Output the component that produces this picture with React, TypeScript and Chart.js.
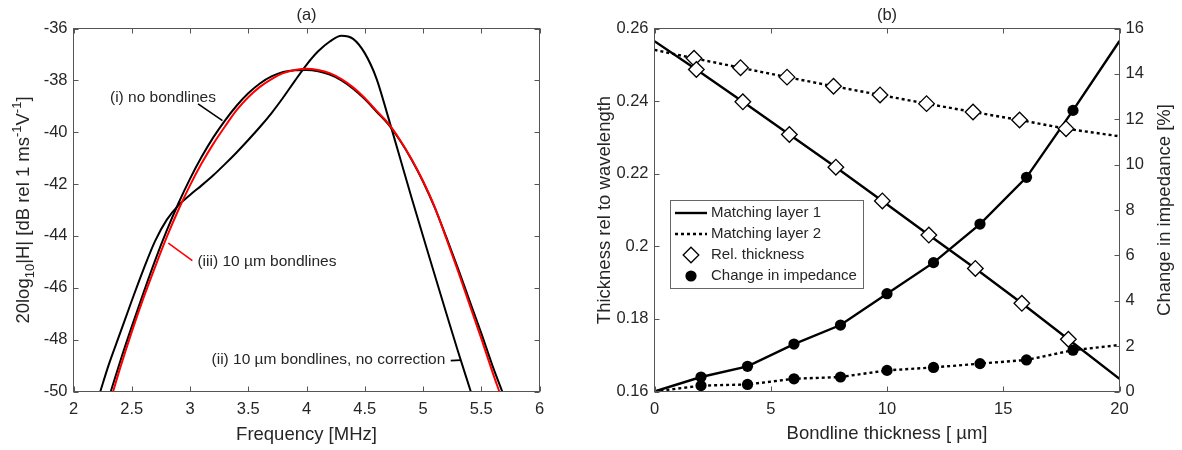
import React, { useEffect, useRef } from 'react';
import { Chart, registerables } from 'chart.js';

Chart.register(...registerables);

const FONT = '"Liberation Sans", Arial, Helvetica, sans-serif';
const TEXT = '#262626';
const AXIS = '#555555';

// ---------------- Panel (a): transfer functions ----------------
const freqNoBond = [2.32, 2.4, 2.5, 2.6, 2.7, 2.8, 2.9, 3.0, 3.1, 3.2, 3.3, 3.4, 3.5, 3.6, 3.7, 3.8, 3.9, 4.0, 4.1, 4.2, 4.3, 4.4, 4.5, 4.6, 4.7, 4.8, 4.9, 5.0, 5.1, 5.2, 5.3, 5.4, 5.5, 5.6, 5.68];
const dbNoBond = [-50.0, -48.85, -47.5, -46.2, -44.95, -43.8, -42.75, -41.8, -40.95, -40.2, -39.55, -38.98, -38.5, -38.12, -37.85, -37.68, -37.61, -37.6, -37.65, -37.78, -38.0, -38.32, -38.72, -39.2, -39.68, -40.3, -41.04, -41.9, -42.9, -44.05, -45.25, -46.5, -47.75, -49.05, -50.0];

const freqNoCorr = [2.23, 2.3, 2.4, 2.5, 2.6, 2.7, 2.8, 2.9, 3.0, 3.1, 3.2, 3.3, 3.4, 3.5, 3.6, 3.7, 3.8, 3.9, 4.0, 4.1, 4.2, 4.3, 4.4, 4.5, 4.6, 4.7, 4.8, 4.9, 5.0, 5.1, 5.2, 5.3, 5.41];
const dbNoCorr = [-50.0, -49.0, -47.75, -46.5, -45.3, -44.2, -43.38, -42.82, -42.42, -42.05, -41.66, -41.23, -40.78, -40.3, -39.8, -39.26, -38.66, -38.02, -37.4, -36.88, -36.5, -36.28, -36.4, -36.95, -37.92, -39.4, -40.95, -42.5, -44.0, -45.5, -46.98, -48.45, -50.0];

const freqBond10 = [2.34, 2.4, 2.5, 2.6, 2.7, 2.8, 2.9, 3.0, 3.1, 3.2, 3.3, 3.4, 3.5, 3.6, 3.7, 3.8, 3.9, 4.0, 4.1, 4.2, 4.3, 4.4, 4.5, 4.6, 4.7, 4.8, 4.9, 5.0, 5.1, 5.2, 5.3, 5.4, 5.5, 5.6, 5.655];
const dbBond10 = [-50.0, -49.1, -47.7, -46.4, -45.2, -44.05, -43.0, -42.05, -41.2, -40.45, -39.78, -39.15, -38.65, -38.25, -37.95, -37.72, -37.6, -37.55, -37.6, -37.72, -37.95, -38.27, -38.68, -39.17, -39.65, -40.28, -41.02, -41.88, -42.88, -44.1, -45.35, -46.65, -47.95, -49.3, -50.0];

// annotation anchors in data units [x, y]
const labelNoBond = { text: '(i) no bondlines', at: [2.313, -38.68], line: [[3.069, -38.91], [3.279, -39.55]] };
const labelBond10 = { text: '(iii) 10 µm bondlines', at: [3.064, -45.0], line: [[2.814, -44.28], [3.02, -44.95]] };
const labelNoCorr = { text: '(ii) 10 µm bondlines, no correction', at: [3.185, -48.77], line: [[5.238, -48.81], [5.326, -48.79]] };

// ---------------- Panel (b): bondline study ----------------
const ml1ThickX = [1.8, 3.8, 5.8, 7.8, 9.8, 11.8, 13.8, 15.8, 17.8];
const ml1Thick = [0.2487, 0.2398, 0.2308, 0.2218, 0.2125, 0.2031, 0.1939, 0.1843, 0.1744];
const ml1ThickEnds = [0.2565, 0.1635];

const ml2ThickX = [1.7, 3.7, 5.7, 7.7, 9.7, 11.7, 13.7, 15.7, 17.7];
const ml2Thick = [0.2518, 0.2492, 0.2466, 0.2441, 0.2417, 0.2393, 0.237, 0.2348, 0.2324];
const ml2ThickEnds = [0.2541, 0.2303];

const impX = [2, 4, 6, 8, 10, 12, 14, 16, 18];
const ml1Imp = [0.64, 1.11, 2.09, 2.93, 4.31, 5.68, 7.38, 9.44, 12.39];
const ml1ImpEnds = [0, 15.45];
const ml2Imp = [0.26, 0.31, 0.56, 0.64, 0.93, 1.06, 1.23, 1.39, 1.82];
const ml2ImpEnds = [0, 2.05];

const legendLabels = ['Matching layer 1', 'Matching layer 2', 'Rel. thickness', 'Change in impedance'];

const zip = (xs: number[], ys: number[]) => xs.map((x, i) => ({ x, y: ys[i] }));
const withEnds = (xs: number[], ys: number[], ends: number[]) => [{ x: 0, y: ends[0] }, ...zip(xs, ys), { x: 20, y: ends[1] }];
const fmt = (v: any) => String(parseFloat(Number(v).toFixed(4)));

type Seg = { t: string; k?: 'sub' | 'sup' };

function drawRich(ctx: CanvasRenderingContext2D, segs: Seg[], cx: number, cy: number, size: number, rotate: boolean) {
  ctx.save();
  ctx.translate(cx, cy);
  if (rotate) ctx.rotate(-Math.PI / 2);
  const small = Math.round(size * 0.72);
  const widths = segs.map((s) => {
    ctx.font = `${s.k ? small : size}px ${FONT}`;
    return ctx.measureText(s.t).width;
  });
  const total = widths.reduce((a, b) => a + b, 0);
  let x = -total / 2;
  ctx.textBaseline = 'alphabetic';
  ctx.textAlign = 'left';
  ctx.fillStyle = TEXT;
  const base = size * 0.36;
  segs.forEach((s, i) => {
    ctx.font = `${s.k ? small : size}px ${FONT}`;
    const dy = s.k === 'sub' ? size * 0.3 : s.k === 'sup' ? -size * 0.42 : 0;
    ctx.fillText(s.t, x, base + dy);
    x += widths[i];
  });
  ctx.restore();
}

function drawBoxAndTicks(chart: any, yIds: string[], rightTicksFrom: string | null) {
  const { ctx, chartArea: ca, scales } = chart;
  const L = 5;
  ctx.save();
  ctx.strokeStyle = AXIS;
  ctx.lineWidth = 1;
  ctx.beginPath();
  const xs = scales.x;
  xs.ticks.forEach((t: any) => {
    const p = Math.round(xs.getPixelForValue(t.value)) + 0.5;
    ctx.moveTo(p, ca.bottom);
    ctx.lineTo(p, ca.bottom - L);
    ctx.moveTo(p, ca.top);
    ctx.lineTo(p, ca.top + L);
  });
  const yl = scales[yIds[0]];
  yl.ticks.forEach((t: any) => {
    const p = Math.round(yl.getPixelForValue(t.value)) + 0.5;
    ctx.moveTo(ca.left, p);
    ctx.lineTo(ca.left + L, p);
  });
  const yr = scales[rightTicksFrom || yIds[0]];
  yr.ticks.forEach((t: any) => {
    const p = Math.round(yr.getPixelForValue(t.value)) + 0.5;
    ctx.moveTo(ca.right, p);
    ctx.lineTo(ca.right - L, p);
  });
  ctx.stroke();
  ctx.strokeRect(ca.left, ca.top, ca.right - ca.left, ca.bottom - ca.top);
  ctx.restore();
}

function drawText(ctx: CanvasRenderingContext2D, text: string, x: number, y: number, size: number, align: CanvasTextAlign = 'left') {
  ctx.save();
  ctx.font = `${size}px ${FONT}`;
  ctx.fillStyle = TEXT;
  ctx.textAlign = align;
  ctx.textBaseline = 'middle';
  ctx.fillText(text, x, y);
  ctx.restore();
}

const panelAPlugin = {
  id: 'panelA',
  afterDraw(chart: any) {
    const { ctx, chartArea: ca, scales } = chart;
    drawBoxAndTicks(chart, ['y'], null);
    const cx = (ca.left + ca.right) / 2;
    drawText(ctx, '(a)', cx, 15, 16.5, 'center');
    drawText(ctx, 'Frequency [MHz]', cx, 435, 18.5, 'center');
    drawRich(
      ctx,
      [
        { t: '20log' },
        { t: '10', k: 'sub' },
        { t: '|H| [dB rel 1 ms' },
        { t: '-1', k: 'sup' },
        { t: 'V' },
        { t: '-1', k: 'sup' },
        { t: ']' },
      ],
      22,
      (ca.top + ca.bottom) / 2,
      18.5,
      true
    );
    const X = (v: number) => scales.x.getPixelForValue(v);
    const Y = (v: number) => scales.y.getPixelForValue(v);
    const lines: [any, string][] = [
      [labelNoBond, '#000000'],
      [labelBond10, '#ff0000'],
      [labelNoCorr, '#000000'],
    ];
    lines.forEach(([lab, col]) => {
      ctx.save();
      ctx.strokeStyle = col;
      ctx.lineWidth = 1.6;
      ctx.beginPath();
      ctx.moveTo(X(lab.line[0][0]), Y(lab.line[0][1]));
      ctx.lineTo(X(lab.line[1][0]), Y(lab.line[1][1]));
      ctx.stroke();
      ctx.restore();
      drawText(ctx, lab.text, X(lab.at[0]), Y(lab.at[1]), 15.5);
    });
  },
};

const panelBPlugin = {
  id: 'panelB',
  afterDraw(chart: any) {
    const { ctx, chartArea: ca } = chart;
    drawBoxAndTicks(chart, ['y'], 'y1');
    const cx = (ca.left + ca.right) / 2;
    const cy = (ca.top + ca.bottom) / 2;
    drawText(ctx, '(b)', cx, 15, 16.5, 'center');
    drawText(ctx, 'Bondline thickness [ µm]', cx, 434, 18.5, 'center');
    drawRich(ctx, [{ t: 'Thickness rel to wavelength' }], 12, cy, 18.5, true);
    drawRich(ctx, [{ t: 'Change in impedance [%]' }], 572, cy, 18.5, true);

    // legend
    const bx = 79.5, by = 200.5, bw = 193, bh = 88;
    ctx.save();
    ctx.fillStyle = '#ffffff';
    ctx.fillRect(bx, by, bw, bh);
    ctx.strokeStyle = '#666666';
    ctx.lineWidth = 1;
    ctx.strokeRect(bx, by, bw, bh);
    const rows = [213, 234, 255, 276];
    const lx0 = 84, lx1 = 116, mx = 100, tx = 120;
    ctx.strokeStyle = '#000000';
    ctx.lineWidth = 2.4;
    ctx.beginPath();
    ctx.moveTo(lx0, rows[0]);
    ctx.lineTo(lx1, rows[0]);
    ctx.stroke();
    ctx.setLineDash([3, 3]);
    ctx.beginPath();
    ctx.moveTo(lx0, rows[1]);
    ctx.lineTo(lx1, rows[1]);
    ctx.stroke();
    ctx.setLineDash([]);
    ctx.lineWidth = 1.3;
    ctx.fillStyle = '#ffffff';
    const r = 7.8;
    ctx.beginPath();
    ctx.moveTo(mx - r, rows[2]);
    ctx.lineTo(mx, rows[2] - r);
    ctx.lineTo(mx + r, rows[2]);
    ctx.lineTo(mx, rows[2] + r);
    ctx.closePath();
    ctx.fill();
    ctx.stroke();
    ctx.fillStyle = '#000000';
    ctx.beginPath();
    ctx.arc(mx, rows[3], 5.6, 0, Math.PI * 2);
    ctx.fill();
    ctx.restore();
    legendLabels.forEach((t, i) => drawText(ctx, t, tx, rows[i], 15));
  },
};

const tickFont = { family: FONT, size: 16.5 };

function makeA(canvas: HTMLCanvasElement) {
  const common = { pointRadius: 0, borderWidth: 2, cubicInterpolationMode: 'monotone' as const, fill: false };
  return new Chart(canvas, {
    type: 'line',
    data: {
      datasets: [
        { label: '(iii) 10 µm bondlines', data: zip(freqBond10, dbBond10), borderColor: '#ff0000', ...common },
        { label: '(ii) 10 µm bondlines, no correction', data: zip(freqNoCorr, dbNoCorr), borderColor: '#000000', ...common },
        { label: '(i) no bondlines', data: zip(freqNoBond, dbNoBond), borderColor: '#000000', ...common },
      ],
    },
    options: {
      animation: false,
      responsive: false,
      events: [],
      layout: { padding: { top: 28.5, right: 51.5, left: 0, bottom: 0 } },
      plugins: { legend: { display: false }, tooltip: { enabled: false }, title: { display: false } },
      scales: {
        x: {
          type: 'linear',
          min: 2,
          max: 6,
          ticks: { stepSize: 0.5, font: tickFont, color: TEXT, padding: 8, maxRotation: 0, autoSkip: false, callback: fmt },
          grid: { display: false, drawTicks: false },
          border: { display: false },
          afterFit: (s: any) => { s.height = 58.5; },
        },
        y: {
          type: 'linear',
          min: -50,
          max: -36,
          ticks: { stepSize: 2, font: tickFont, color: TEXT, padding: 6, callback: fmt },
          grid: { display: false, drawTicks: false },
          border: { display: false },
          afterFit: (s: any) => { s.width = 73.5; },
        },
      },
    } as any,
    plugins: [panelAPlugin],
  });
}

function makeB(canvas: HTMLCanvasElement) {
  const lineBase = { pointRadius: 0, borderColor: '#000000', borderWidth: 2.4, tension: 0, fill: false, showLine: true };
  const diamond = {
    showLine: false,
    pointStyle: 'rectRot',
    pointRadius: 7.8,
    pointBorderWidth: 1.3,
    pointBackgroundColor: '#ffffff',
    pointBorderColor: '#000000',
  };
  const circle = {
    showLine: false,
    pointStyle: 'circle',
    pointRadius: 5.6,
    pointBorderWidth: 0,
    pointBackgroundColor: '#000000',
    pointBorderColor: '#000000',
  };
  return new Chart(canvas, {
    type: 'line',
    data: {
      datasets: [
        { label: 'Rel. thickness ML1', data: zip(ml1ThickX, ml1Thick), yAxisID: 'y', ...diamond },
        { label: 'Rel. thickness ML2', data: zip(ml2ThickX, ml2Thick), yAxisID: 'y', ...diamond },
        { label: 'Change in impedance ML1', data: zip(impX, ml1Imp), yAxisID: 'y1', ...circle },
        { label: 'Change in impedance ML2', data: zip(impX, ml2Imp), yAxisID: 'y1', ...circle },
        { label: 'Matching layer 1', data: withEnds(ml1ThickX, ml1Thick, ml1ThickEnds), yAxisID: 'y', ...lineBase },
        { label: 'Matching layer 2', data: withEnds(ml2ThickX, ml2Thick, ml2ThickEnds), yAxisID: 'y', ...lineBase, borderDash: [3, 3] },
        { label: 'Matching layer 1 impedance', data: withEnds(impX, ml1Imp, ml1ImpEnds), yAxisID: 'y1', ...lineBase },
        { label: 'Matching layer 2 impedance', data: withEnds(impX, ml2Imp, ml2ImpEnds), yAxisID: 'y1', ...lineBase, borderDash: [3, 3] },
      ],
    },
    options: {
      animation: false,
      responsive: false,
      events: [],
      layout: { padding: { top: 28.5, right: 0, left: 0, bottom: 0 } },
      plugins: { legend: { display: false }, tooltip: { enabled: false }, title: { display: false } },
      scales: {
        x: {
          type: 'linear',
          min: 0,
          max: 20,
          ticks: { stepSize: 5, font: tickFont, color: TEXT, padding: 8, maxRotation: 0, autoSkip: false, callback: fmt },
          grid: { display: false, drawTicks: false },
          border: { display: false },
          afterFit: (s: any) => { s.height = 58.5; },
        },
        y: {
          type: 'linear',
          position: 'left',
          min: 0.16,
          max: 0.26,
          ticks: { stepSize: 0.02, font: tickFont, color: TEXT, padding: 6, callback: fmt },
          grid: { display: false, drawTicks: false },
          border: { display: false },
          afterFit: (s: any) => { s.width = 63.5; },
        },
        y1: {
          type: 'linear',
          position: 'right',
          min: 0,
          max: 16,
          ticks: { stepSize: 2, font: tickFont, color: TEXT, padding: 6, callback: fmt },
          grid: { display: false, drawTicks: false },
          border: { display: false },
          afterFit: (s: any) => { s.width = 62.5; },
        },
      },
    } as any,
    plugins: [panelBPlugin],
  });
}

export default function App() {
  const refA = useRef<HTMLCanvasElement>(null);
  const refB = useRef<HTMLCanvasElement>(null);
  useEffect(() => {
    const a = makeA(refA.current!);
    const b = makeB(refB.current!);
    return () => {
      a.destroy();
      b.destroy();
    };
  }, []);
  return (
    <div style={{ position: 'fixed', left: 0, top: 0, width: 1182, height: 450, background: '#ffffff' }}>
      <canvas ref={refA} width={591} height={450} style={{ position: 'absolute', left: 0, top: 0, width: 591, height: 450 }} />
      <canvas ref={refB} width={591} height={450} style={{ position: 'absolute', left: 591, top: 0, width: 591, height: 450 }} />
    </div>
  );
}
